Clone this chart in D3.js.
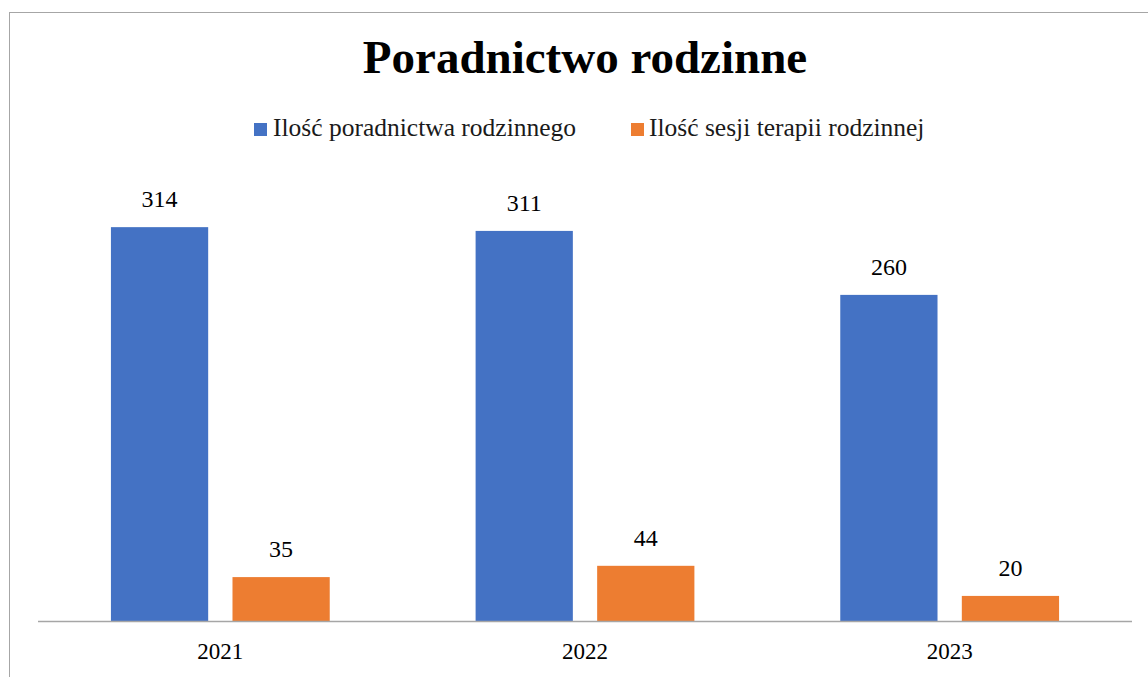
<!DOCTYPE html>
<html>
<head>
<meta charset="utf-8">
<script src="https://cdn.jsdelivr.net/npm/d3@7"></script>
<style>
  html, body { margin: 0; padding: 0; background: #fff; }
  svg { display: block; }
</style>
</head>
<body>
<svg id="chart" width="1148" height="677"></svg>
<script>
const title = "Poradnictwo rodzinne";
const categories = ["2021", "2022", "2023"];
const seriesNames = ["Ilość poradnictwa rodzinnego", "Ilość sesji terapii rodzinnej"];
const poradnictwa = [314, 311, 260];
const sesje = [35, 44, 20];
const colors = ["#4472C4", "#ED7D31"];

const W = 1148, H = 677;
const svg = d3.select("#chart");
const font = "'Liberation Serif', 'Times New Roman', serif";

// frame
svg.append("rect")
  .attr("x", 9.5).attr("y", 12.5)
  .attr("width", W + 20).attr("height", H + 20)
  .attr("fill", "#fff").attr("stroke", "#a6a6a6").attr("stroke-width", 1);

const series = [poradnictwa, sesje];
const data = categories.map((c, i) => ({ cat: c, values: series.map((s, j) => ({ key: j, value: s[i] })) }));

const x0 = d3.scaleBand().domain(categories).range([38, 1132]).paddingInner(0.4).paddingOuter(0.2);
const x1 = d3.scaleBand().domain([0, 1]).range([0, x0.bandwidth()]).paddingInner(0.2).paddingOuter(0);
const y = d3.scaleLinear().domain([0, 350]).range([621, 182]);

// title
svg.append("text")
  .attr("x", 585).attr("y", 73)
  .attr("text-anchor", "middle")
  .attr("font-family", font).attr("font-weight", "bold")
  .attr("font-size", 47).attr("fill", "#000")
  .text(title);

// bars
const g = svg.append("g").selectAll("g").data(data).join("g")
  .attr("transform", d => `translate(${x0(d.cat)},0)`);

g.selectAll("rect").data(d => d.values).join("rect")
  .attr("x", d => x1(d.key))
  .attr("y", d => y(d.value))
  .attr("width", x1.bandwidth())
  .attr("height", d => y(0) - y(d.value))
  .attr("fill", d => colors[d.key]);

g.selectAll("text").data(d => d.values).join("text")
  .attr("x", d => x1(d.key) + x1.bandwidth() / 2)
  .attr("y", d => y(d.value) - 20)
  .attr("text-anchor", "middle")
  .attr("font-family", font).attr("font-size", 24).attr("fill", "#000")
  .text(d => d.value);

// axis
const axis = svg.append("g").attr("transform", `translate(0,${y(0)})`)
  .call(d3.axisBottom(x0).tickSize(0).tickPadding(0));
axis.select(".domain").attr("stroke", "#a6a6a6").attr("stroke-width", 1.5)
  .attr("d", "M38,0.5H1132");
axis.selectAll("text").attr("font-family", font).attr("font-size", 23).attr("fill", "#000")
  .attr("y", 38).attr("dy", null);

// legend
const legendItems = [
  { sq: 254, tx: 273 },
  { sq: 631, tx: 649 }
];
const lg = svg.append("g");
seriesNames.forEach((name, i) => {
  lg.append("rect").attr("x", legendItems[i].sq).attr("y", 123)
    .attr("width", 13).attr("height", 13).attr("fill", colors[i]);
  lg.append("text").attr("x", legendItems[i].tx).attr("y", 136)
    .attr("font-family", font).attr("font-size", 25.5).attr("fill", "#1a1a1a")
    .text(name);
});
</script>
</body>
</html>
